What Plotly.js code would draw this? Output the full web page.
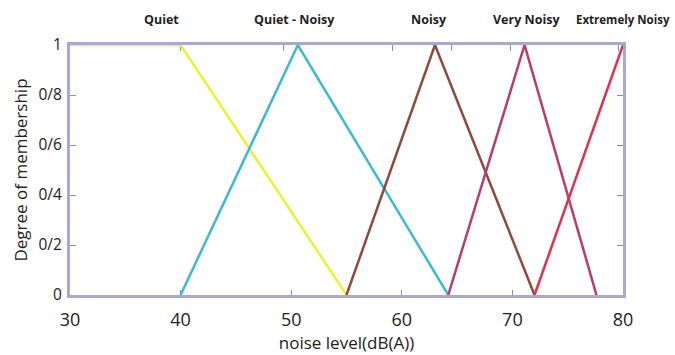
<!DOCTYPE html>
<html>
<head>
<meta charset="utf-8">
<script src="https://cdn.plot.ly/plotly-3.0.1.min.js"></script>
<style>html,body{margin:0;padding:0;background:#fff;}#chart{width:675px;height:355px;}</style>
</head>
<body>
<div id="chart"></div>
<script>
// Membership function categories
const categories = ['Quiet', 'Quiet - Noisy', 'Noisy', 'Very Noisy', 'Extremely Noisy'];
// Break points (noise level dB(A)) and membership degrees
const quietX = [30, 40, 55];
const quietY = [1, 1, 0];
const quietNoisyX = [40, 50.6, 64.2];
const quietNoisyY = [0, 1, 0];
const noisyX = [55, 63, 72];
const noisyY = [0, 1, 0];
const veryNoisyX = [64.2, 71.1, 77.6];
const veryNoisyY = [0, 1, 0];
const extremelyNoisyX = [72, 80];
const extremelyNoisyY = [0, 1];
// Axis ticks
const xTickVals = [30, 40, 50, 60, 70, 80];
const xTickText = ['30', '40', '50', '60', '70', '80'];
const yTickVals = [0, 0.2, 0.4, 0.6, 0.8, 1];
const yTickText = ['0', '0/2', '0/4', '0/6', '0/8', '1'];
const topTickVals = [40, 49.3, 59.2, 64.5, 69.8, 79.6];
const labelX = [38.3, 50.3, 62.5, 71.3, 84.4];

const colors = ['#eef032', '#3fb9d3', '#8e4a3a', '#b83c6c', '#e0304c'];
const xs = [quietX, quietNoisyX, noisyX, veryNoisyX, extremelyNoisyX];
const ys = [quietY, quietNoisyY, noisyY, veryNoisyY, extremelyNoisyY];

const traces = categories.map((c, i) => ({
  x: xs[i], y: ys[i], name: c, type: 'scatter', mode: 'lines',
  line: {color: colors[i], width: 2.5}, cliponaxis: false, hoverinfo: 'skip'
}));
traces.push({x: [30, 80], y: [null, null], xaxis: 'x2', yaxis: 'y', showlegend: false, hoverinfo: 'skip'});

const frame = '#a9a9cf';
const tickc = '#8c8cae';
const xr = [30, 80];
const annotations = categories.map((c, i) => ({
  x: (labelX[i] - xr[0]) / (xr[1] - xr[0]), xref: 'paper', y: 1.1, yref: 'paper',
  text: '<b>' + c + '</b>', showarrow: false,
  xanchor: i === 4 ? 'right' : 'center', yanchor: 'middle',
  font: {family: 'Open Sans', size: i === 4 ? 11.5 : 12.5, color: '#222'}
}));

const layout = {
  width: 675, height: 355,
  margin: {l: 70, r: 52, t: 45, b: 60},
  paper_bgcolor: '#fff', plot_bgcolor: '#fff',
  showlegend: false,
  xaxis: {
    range: xr, tickvals: xTickVals, ticktext: xTickText,
    showline: true, linecolor: frame, linewidth: 3, mirror: true,
    ticks: 'inside', ticklen: 5, tickcolor: tickc, tickwidth: 1,
    showgrid: false, zeroline: false, layer: 'below traces',
    tickfont: {family: 'Open Sans', size: 18, color: '#222'},
    ticklabelstandoff: 6,
    title: {text: 'noise level(dB(A))', font: {family: 'Open Sans', size: 17, color: '#222'}, standoff: 6}
  },
  xaxis2: {
    overlaying: 'x', side: 'top', range: xr, tickvals: topTickVals,
    showticklabels: false, ticks: 'inside', ticklen: 6, tickcolor: tickc, tickwidth: 1,
    showline: false, showgrid: false, zeroline: false, layer: 'below traces'
  },
  yaxis: {
    range: [0, 1], tickvals: yTickVals, ticktext: yTickText,
    showline: true, linecolor: frame, linewidth: 3, mirror: 'ticks',
    ticks: 'inside', ticklen: 6, tickcolor: tickc, tickwidth: 1,
    showgrid: false, zeroline: false, layer: 'below traces',
    tickfont: {family: 'Open Sans', size: 15.5, color: '#222'},
    ticklabelstandoff: 2,
    title: {text: 'Degree of membership', font: {family: 'Open Sans', size: 17, color: '#222'}, standoff: 7}
  },
  annotations: annotations
};
Plotly.newPlot('chart', traces, layout, {staticPlot: true, displayModeBar: false});
</script>
</body>
</html>
